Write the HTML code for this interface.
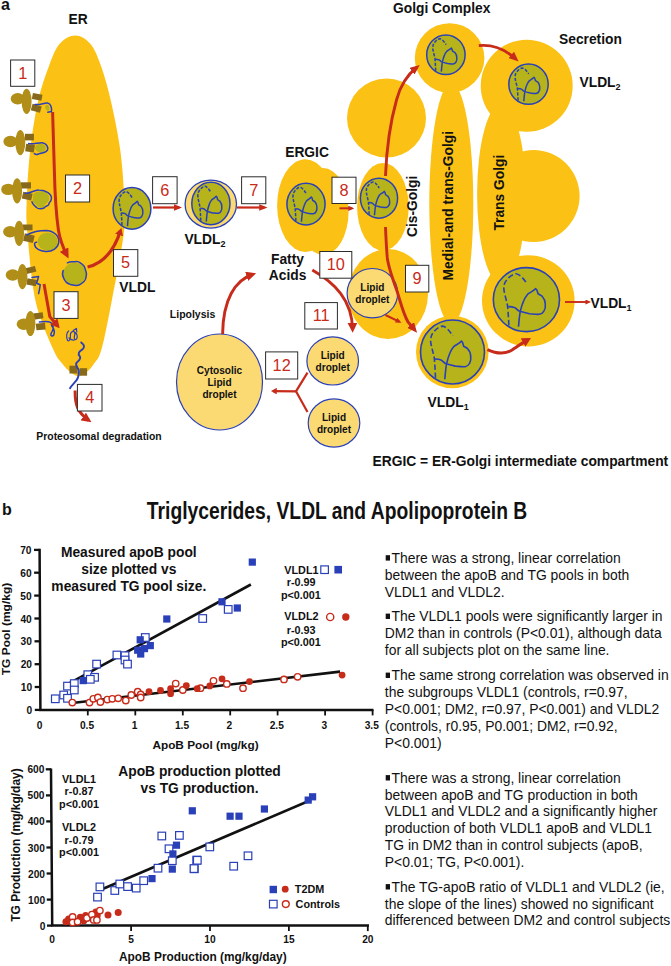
<!DOCTYPE html>
<html><head><meta charset="utf-8"><title>Figure</title>
<style>
html,body{margin:0;padding:0;background:#fff;}
svg{display:block;}
text{font-family:"Liberation Sans",sans-serif;fill:#111;}
.b{font-weight:700;}
.n{fill:#C72B1A;font-size:16.3px;text-anchor:middle;}
</style></head><body>
<svg width="671" height="966" viewBox="0 0 671 966">
<rect width="671" height="966" fill="#fff"/>
<defs>
</defs>
<g fill="#FBC115">
<path d="M75.2,35.5 C80.4,35.5 86.2,38.9 90.5,44.0 C94.8,49.1 97.6,56.4 101.0,66.0 C104.4,75.6 107.8,87.2 111.0,101.5 C114.2,115.8 118.3,135.1 120.5,152.0 C122.7,168.9 123.9,189.2 124.4,203.0 C124.9,216.8 125.7,218.7 123.6,235.0 C121.5,251.3 115.4,281.9 111.7,301.0 C108.0,320.1 104.5,339.0 101.4,349.6 C98.4,360.2 95.9,360.8 93.4,364.5 C90.9,368.2 89.2,370.1 86.6,372.0 C84.0,373.9 80.7,376.2 78.0,376.2 C75.3,376.2 72.9,373.9 70.4,372.0 C67.9,370.1 65.8,368.2 63.0,364.5 C60.1,360.8 57.9,360.2 53.3,349.6 C48.7,339.0 39.8,320.1 35.5,301.0 C31.2,281.9 29.1,251.3 27.6,235.0 C26.1,218.7 26.2,216.8 26.6,203.0 C27.0,189.2 28.1,168.9 30.0,152.0 C31.9,135.1 34.8,115.8 38.0,101.5 C41.2,87.2 45.4,75.6 49.0,66.0 C52.6,56.4 55.1,49.1 59.5,44.0 C63.9,38.9 70.0,35.5 75.2,35.5Z"/>
<ellipse cx="305.4" cy="205.6" rx="28.3" ry="46.4"/>
<ellipse cx="323.1" cy="211.5" rx="25.5" ry="43.4"/>
<circle cx="386.5" cy="118" r="39.5"/>
<ellipse cx="382.9" cy="206.7" rx="25.8" ry="43.8"/>
<ellipse cx="388" cy="294" rx="40" ry="45"/>
<circle cx="449.6" cy="58" r="34.8"/>
<ellipse cx="451.3" cy="203.5" rx="22" ry="120.5"/>
<circle cx="452.3" cy="352" r="36.3"/>
<circle cx="526.7" cy="85.8" r="46"/>
<ellipse cx="501.4" cy="194" rx="24.3" ry="90"/>
<circle cx="533.6" cy="196" r="46"/>
<ellipse cx="528.3" cy="300.8" rx="46.3" ry="45.6"/>
</g>
<ellipse cx="219.5" cy="382" rx="43" ry="48" fill="#FBDA74" stroke="#2A40B8" stroke-width="1.2"/>
<text class="b" x="219.5" y="373.6" font-size="10.1" text-anchor="middle">Cytosolic</text>
<text class="b" x="219.5" y="385.6" font-size="10.1" text-anchor="middle">Lipid</text>
<text class="b" x="219.5" y="397.6" font-size="10.1" text-anchor="middle">droplet</text>
<ellipse cx="372.4" cy="293.2" rx="25.3" ry="24.7" fill="#FBDA74" stroke="#2A40B8" stroke-width="1.2"/>
<text class="b" x="372.4" y="290.8" font-size="10.1" text-anchor="middle">Lipid</text>
<text class="b" x="372.4" y="302.8" font-size="10.1" text-anchor="middle">droplet</text>
<ellipse cx="332.7" cy="360.9" rx="25.8" ry="24.1" fill="#FBDA74" stroke="#2A40B8" stroke-width="1.2"/>
<text class="b" x="332.7" y="358.5" font-size="10.1" text-anchor="middle">Lipid</text>
<text class="b" x="332.7" y="370.5" font-size="10.1" text-anchor="middle">droplet</text>
<ellipse cx="334" cy="423" rx="25.8" ry="24.1" fill="#FBDA74" stroke="#2A40B8" stroke-width="1.2"/>
<text class="b" x="334" y="420.6" font-size="10.1" text-anchor="middle">Lipid</text>
<text class="b" x="334" y="432.6" font-size="10.1" text-anchor="middle">droplet</text>
<ellipse cx="132" cy="208.4" rx="18.9" ry="20.8" fill="#B6B41A" stroke="#2A40B8" stroke-width="1.5"/>
<path d="M122.0,225.2 C121.8,220.9 121.6,216.7 121.2,212.4 C120.7,208.8 119.5,205.3 119.1,202.0 C119.0,199.0 119.5,197.0 120.8,195.5 C122.2,193.4 124.1,192.0 126.1,191.6 C128.2,191.8 130.5,195.1 132.2,197.8" fill="none" stroke="#2A40B8" stroke-width="1.50" stroke-dasharray="3.2 1.5"/>
<path d="M127.5,226.1 C127.8,220.9 128.2,217.8 128.4,216.5 C129.0,213.6 129.7,210.9 130.5,209.0 C131.1,207.4 132.0,205.9 132.8,204.9 C133.9,203.8 135.8,203.0 137.3,201.3 L138.0,202.4 L138.6,204.7 C139.6,205.3 140.3,205.7 140.9,206.1 C142.0,207.6 142.8,209.4 142.8,211.3 C143.0,213.0 142.8,214.6 142.0,215.9 C141.4,217.1 140.5,217.8 139.4,218.0 C137.7,218.2 135.8,217.8 133.7,217.6 C131.6,217.1 129.7,216.5 127.8,215.9 C126.7,215.1 126.0,214.0 125.2,213.6 C124.1,213.0 122.5,213.0 121.6,213.0" fill="none" stroke="#2A40B8" stroke-width="1.50" stroke-linejoin="round"/>
<ellipse cx="210.8" cy="204.1" rx="25.7" ry="24" fill="#FBDA74" stroke="#2A40B8" stroke-width="1.3"/>
<ellipse cx="210.9" cy="203.5" rx="19.1" ry="21.3" fill="#B6B41A" stroke="#2A40B8" stroke-width="1.5"/>
<path d="M200.8,220.8 C200.6,216.3 200.4,212.0 200.0,207.5 C199.4,203.9 198.3,200.3 197.9,196.9 C197.7,193.9 198.3,191.8 199.6,190.3 C201.0,188.2 202.9,186.7 205.0,186.2 C207.1,186.5 209.4,189.9 211.1,192.6" fill="none" stroke="#2A40B8" stroke-width="1.50" stroke-dasharray="3.2 1.5"/>
<path d="M206.3,221.6 C206.7,216.3 207.1,213.1 207.3,211.8 C207.8,208.8 208.6,206.1 209.4,204.1 C209.9,202.4 210.9,200.9 211.7,199.9 C212.8,198.8 214.7,198.0 216.2,196.3 L217.0,197.3 L217.6,199.7 C218.5,200.3 219.3,200.7 219.9,201.2 C221.0,202.6 221.8,204.6 221.8,206.5 C222.0,208.2 221.8,209.9 221.0,211.2 C220.5,212.4 219.5,213.1 218.3,213.3 C216.6,213.5 214.7,213.1 212.6,212.9 C210.5,212.4 208.6,211.8 206.7,211.2 C205.6,210.3 204.8,209.3 204.0,208.8 C202.9,208.2 201.3,208.2 200.4,208.2" fill="none" stroke="#2A40B8" stroke-width="1.50" stroke-linejoin="round"/>
<ellipse cx="306" cy="204.1" rx="19.1" ry="20.8" fill="#B6B41A" stroke="#2A40B8" stroke-width="1.5"/>
<path d="M295.9,220.9 C295.7,216.6 295.5,212.4 295.1,208.1 C294.5,204.5 293.4,201.0 293.0,197.7 C292.8,194.7 293.4,192.7 294.7,191.2 C296.1,189.1 298.0,187.7 300.1,187.3 C302.2,187.5 304.5,190.8 306.2,193.5" fill="none" stroke="#2A40B8" stroke-width="1.50" stroke-dasharray="3.2 1.5"/>
<path d="M301.4,221.8 C301.8,216.6 302.2,213.5 302.4,212.2 C302.9,209.3 303.7,206.6 304.5,204.7 C305.0,203.1 306.0,201.6 306.8,200.6 C307.9,199.5 309.8,198.7 311.3,197.0 L312.1,198.1 L312.7,200.4 C313.6,201.0 314.4,201.4 315.0,201.8 C316.1,203.3 316.9,205.1 316.9,207.0 C317.1,208.7 316.9,210.3 316.1,211.6 C315.6,212.8 314.6,213.5 313.4,213.7 C311.7,213.9 309.8,213.5 307.7,213.3 C305.6,212.8 303.7,212.2 301.8,211.6 C300.7,210.8 299.9,209.7 299.1,209.3 C298.0,208.7 296.4,208.7 295.5,208.7" fill="none" stroke="#2A40B8" stroke-width="1.50" stroke-linejoin="round"/>
<ellipse cx="379" cy="198.2" rx="18.6" ry="20" fill="#B6B41A" stroke="#2A40B8" stroke-width="1.5"/>
<path d="M369.1,214.4 C369.0,210.2 368.8,206.2 368.4,202.0 C367.8,198.6 366.7,195.2 366.4,192.0 C366.2,189.2 366.7,187.2 368.0,185.8 C369.3,183.8 371.2,182.4 373.2,182.0 C375.3,182.2 377.5,185.4 379.2,188.0" fill="none" stroke="#2A40B8" stroke-width="1.50" stroke-dasharray="3.2 1.5"/>
<path d="M374.5,215.2 C374.9,210.2 375.3,207.2 375.5,206.0 C376.0,203.2 376.8,200.6 377.5,198.8 C378.1,197.2 379.0,195.8 379.7,194.8 C380.9,193.8 382.7,193.0 384.2,191.4 L385.0,192.4 L385.5,194.6 C386.4,195.2 387.2,195.6 387.7,196.0 C388.9,197.4 389.6,199.2 389.6,201.0 C389.8,202.6 389.6,204.2 388.9,205.4 C388.3,206.6 387.4,207.2 386.3,207.4 C384.6,207.6 382.7,207.2 380.7,207.0 C378.6,206.6 376.8,206.0 374.9,205.4 C373.8,204.6 373.0,203.6 372.3,203.2 C371.2,202.6 369.7,202.6 368.8,202.6" fill="none" stroke="#2A40B8" stroke-width="1.50" stroke-linejoin="round"/>
<ellipse cx="445.9" cy="54.8" rx="19.2" ry="19.8" fill="#B6B41A" stroke="#2A40B8" stroke-width="1.5"/>
<path d="M435.7,70.8 C435.5,66.7 435.3,62.7 435.0,58.6 C434.4,55.2 433.2,51.8 432.8,48.7 C432.7,45.9 433.2,43.9 434.6,42.5 C435.9,40.5 437.8,39.2 439.9,38.8 C442.1,39.0 444.4,42.1 446.1,44.7" fill="none" stroke="#2A40B8" stroke-width="1.50" stroke-dasharray="3.3 1.5"/>
<path d="M441.3,71.6 C441.7,66.7 442.1,63.7 442.3,62.5 C442.8,59.8 443.6,57.2 444.4,55.4 C444.9,53.8 445.9,52.4 446.7,51.4 C447.8,50.4 449.7,49.7 451.3,48.1 L452.0,49.1 L452.6,51.2 C453.6,51.8 454.3,52.2 454.9,52.6 C456.1,54.0 456.8,55.8 456.8,57.6 C457.0,59.2 456.8,60.7 456.1,61.9 C455.5,63.1 454.5,63.7 453.4,63.9 C451.7,64.1 449.7,63.7 447.6,63.5 C445.5,63.1 443.6,62.5 441.7,61.9 C440.5,61.1 439.8,60.1 439.0,59.8 C437.8,59.2 436.3,59.2 435.3,59.2" fill="none" stroke="#2A40B8" stroke-width="1.50" stroke-linejoin="round"/>
<ellipse cx="528.5" cy="84.2" rx="19.7" ry="20.1" fill="#B6B41A" stroke="#2A40B8" stroke-width="1.5"/>
<path d="M518.1,100.5 C517.9,96.3 517.7,92.2 517.3,88.0 C516.7,84.6 515.5,81.2 515.1,78.0 C514.9,75.2 515.5,73.1 516.9,71.7 C518.3,69.7 520.2,68.3 522.4,67.9 C524.6,68.1 526.9,71.3 528.7,73.9" fill="none" stroke="#2A40B8" stroke-width="1.50" stroke-dasharray="3.3 1.6"/>
<path d="M523.8,101.3 C524.2,96.3 524.6,93.2 524.8,92.0 C525.3,89.2 526.1,86.6 526.9,84.8 C527.5,83.2 528.5,81.8 529.3,80.8 C530.5,79.8 532.4,79.0 534.0,77.4 L534.8,78.4 L535.4,80.6 C536.4,81.2 537.2,81.6 537.8,82.0 C538.9,83.4 539.7,85.2 539.7,87.0 C539.9,88.6 539.7,90.2 538.9,91.4 C538.4,92.6 537.4,93.2 536.2,93.4 C534.4,93.6 532.4,93.2 530.3,93.0 C528.1,92.6 526.1,92.0 524.2,91.4 C523.0,90.6 522.2,89.6 521.4,89.2 C520.2,88.6 518.6,88.6 517.7,88.6" fill="none" stroke="#2A40B8" stroke-width="1.50" stroke-linejoin="round"/>
<ellipse cx="452.5" cy="352" rx="32" ry="32" fill="#B6B41A" stroke="#2A40B8" stroke-width="1.6"/>
<path d="M435.5,377.9 C435.2,371.2 434.9,364.8 434.3,358.1 C433.3,352.6 431.4,347.2 430.7,342.1 C430.4,337.6 431.4,334.4 433.6,332.2 C435.9,329.0 439.1,326.7 442.6,326.1 C446.1,326.4 449.9,331.5 452.8,335.7" fill="none" stroke="#2A40B8" stroke-width="1.60" stroke-dasharray="5.4 2.6"/>
<path d="M444.8,379.2 C445.5,371.2 446.1,366.4 446.4,364.5 C447.4,360.0 448.7,355.8 449.9,353.0 C450.9,350.4 452.5,348.2 453.8,346.6 C455.7,345.0 458.9,343.7 461.5,341.1 L462.7,342.7 L463.7,346.2 C465.3,347.2 466.6,347.8 467.5,348.5 C469.5,350.7 470.7,353.6 470.7,356.5 C471.1,359.0 470.7,361.6 469.5,363.5 C468.5,365.4 466.9,366.4 465.0,366.7 C462.1,367.0 458.9,366.4 455.4,366.1 C451.9,365.4 448.7,364.5 445.5,363.5 C443.5,362.2 442.3,360.6 441.0,360.0 C439.1,359.0 436.5,359.0 434.9,359.0" fill="none" stroke="#2A40B8" stroke-width="1.60" stroke-linejoin="round"/>
<ellipse cx="526.4" cy="299.6" rx="33.1" ry="32" fill="#B6B41A" stroke="#2A40B8" stroke-width="1.6"/>
<path d="M508.9,325.5 C508.5,318.8 508.2,312.4 507.5,305.7 C506.5,300.2 504.6,294.8 503.9,289.7 C503.6,285.2 504.6,282.0 506.9,279.8 C509.2,276.6 512.5,274.3 516.1,273.7 C519.8,274.0 523.8,279.1 526.7,283.3" fill="none" stroke="#2A40B8" stroke-width="1.60" stroke-dasharray="5.6 2.6"/>
<path d="M518.5,326.8 C519.1,318.8 519.8,314.0 520.1,312.1 C521.1,307.6 522.4,303.4 523.8,300.6 C524.7,298.0 526.4,295.8 527.7,294.2 C529.7,292.6 533.0,291.3 535.7,288.7 L537.0,290.3 L538.0,293.8 C539.6,294.8 541.0,295.4 542.0,296.1 C543.9,298.3 545.3,301.2 545.3,304.1 C545.6,306.6 545.3,309.2 543.9,311.1 C542.9,313.0 541.3,314.0 539.3,314.3 C536.3,314.6 533.0,314.0 529.4,313.7 C525.7,313.0 522.4,312.1 519.1,311.1 C517.1,309.8 515.8,308.2 514.5,307.6 C512.5,306.6 509.8,306.6 508.2,306.6" fill="none" stroke="#2A40B8" stroke-width="1.60" stroke-linejoin="round"/>
<rect x="32.3" y="93.8" width="9.7" height="6.2" fill="#86691A" transform="rotate(10 37.1 96.9)"/>
<rect x="31.5" y="105.0" width="9.5" height="6.6" fill="#86691A" transform="rotate(16 36.2 108.3)"/>
<ellipse cx="17.7" cy="98.8" rx="7" ry="5.7" fill="#B08E18"/>
<ellipse cx="26.6" cy="101.4" rx="5" ry="12.6" fill="#B08E18"/>
<rect x="25.0" y="133.8" width="8.9" height="6.6" fill="#86691A" transform="rotate(0 29.4 137.1)"/>
<rect x="25.6" y="144.4" width="8.8" height="7.4" fill="#86691A" transform="rotate(8 30.0 148.1)"/>
<ellipse cx="10.4" cy="141.5" rx="7" ry="5.7" fill="#B08E18"/>
<ellipse cx="20.3" cy="142.6" rx="5" ry="12.6" fill="#B08E18"/>
<rect x="20.9" y="182.3" width="10.1" height="6.2" fill="#86691A" transform="rotate(0 25.9 185.4)"/>
<rect x="22.4" y="192.6" width="9.6" height="7.0" fill="#86691A" transform="rotate(12 27.2 196.1)"/>
<ellipse cx="8.2" cy="189.4" rx="7" ry="5.7" fill="#B08E18"/>
<ellipse cx="17.1" cy="190.9" rx="5" ry="12.6" fill="#B08E18"/>
<rect x="22.4" y="224.5" width="10.1" height="5.8" fill="#86691A" transform="rotate(0 27.4 227.4)"/>
<rect x="23.8" y="234.4" width="10.2" height="7.6" fill="#86691A" transform="rotate(14 28.9 238.2)"/>
<ellipse cx="10.1" cy="231.8" rx="7" ry="5.7" fill="#B08E18"/>
<ellipse cx="19.1" cy="233.3" rx="5" ry="12.6" fill="#B08E18"/>
<rect x="26.0" y="267.0" width="9.8" height="5.8" fill="#86691A" transform="rotate(-14 30.9 269.9)"/>
<rect x="26.8" y="279.0" width="9.7" height="6.4" fill="#86691A" transform="rotate(10 31.6 282.2)"/>
<ellipse cx="12.7" cy="275.0" rx="7" ry="5.7" fill="#B08E18"/>
<ellipse cx="22.4" cy="276.6" rx="5" ry="12.6" fill="#B08E18"/>
<rect x="33.4" y="312.8" width="9.7" height="6.2" fill="#86691A" transform="rotate(-8 38.2 315.9)"/>
<rect x="36.1" y="323.3" width="9.2" height="6.6" fill="#86691A" transform="rotate(-6 40.7 326.6)"/>
<ellipse cx="23.7" cy="324.3" rx="7" ry="5.7" fill="#B08E18"/>
<ellipse cx="30.4" cy="323.5" rx="5" ry="12.6" fill="#B08E18"/>
<rect x="69.5" y="365.7" width="7.9" height="7.8" fill="#86691A"/>
<rect x="79.6" y="368.2" width="7.5" height="7.5" fill="#86691A"/>
<ellipse cx="47.4" cy="107.8" rx="2.0" ry="3.0" fill="#B6B41A" transform="rotate(-20 47.4 107.8)"/>
<path d="M35,104.4 C40,105.5 44,102.6 47.5,103 C51,103.6 52,108 51.4,111.6 L47.8,112.2" fill="none" stroke="#2A40B8" stroke-width="1.5" stroke-linecap="round" stroke-linejoin="round"/>
<ellipse cx="40.4" cy="148" rx="5.4" ry="4.2" fill="#B6B41A"/>
<path d="M28.7,143.6 C33,144.6 38,142.6 42,142.8 C46.5,143.4 48.6,147 47.4,150.2 C45.6,153.6 41,152.4 38.6,154 C36.5,155 35.3,154.4 34.4,153.6" fill="none" stroke="#2A40B8" stroke-width="1.5" stroke-linecap="round" stroke-linejoin="round"/>
<path d="M33,196 C34,191.5 40,190.5 44.5,192 C49.5,193.8 50.5,199 47.5,202.5 C46.2,204 44.8,203.6 44.4,206 C43.8,208.2 38.8,208.4 37.6,206.4 C36.6,204.2 33.6,203.6 32.6,201 Z" fill="#B6B41A"/>
<path d="M25.3,193.2 C30,194.2 33.5,189.8 39,190 C46,190 51.8,194.4 51.4,198.6 C51.2,202.2 48.4,202.4 48.8,204.6 C47.4,206.4 45.2,205.6 44.6,207.6 C42.4,209.2 38,209.4 36.4,207.4 C34.4,205.6 32.4,203.6 32,201.8" fill="none" stroke="#2A40B8" stroke-width="1.5" stroke-linecap="round" stroke-linejoin="round"/>
<ellipse cx="47.6" cy="241.6" rx="10" ry="9.2" fill="#B6B41A"/>
<path d="M26.8,234.8 C33,231.6 40,230.4 46,230.4 C54,230.6 59,236 58.8,241.4 C58.6,248 52,251.8 45.5,251.4 C40,251 35,248.4 34.6,244.6 C34.4,242.8 35.4,242 36.6,242.2" fill="none" stroke="#2A40B8" stroke-width="1.5" stroke-linecap="round" stroke-linejoin="round"/>
<ellipse cx="74.5" cy="273.8" rx="11.4" ry="11" fill="#B6B41A"/>
<path d="M67.4,262.8 C71,260.6 74,262.2 76.4,261.6 C79.6,261.4 80.4,263.6 82.4,264.4 C85.4,266.4 85,269.4 86,271.4 C87.4,274.6 86,277 85.4,279.4 C84.4,282.6 81.4,283.4 79.4,284.8 C76,286.4 73,285 70.4,284.4 C66.4,283.2 64.4,280.4 63.4,277.4 C61.8,274.6 62.6,272 63.2,270.4" fill="none" stroke="#2A40B8" stroke-width="1.5" stroke-linecap="round" stroke-linejoin="round"/>
<path d="M32,277.4 L38.6,276.6 L36.6,283.2 L40.2,284.8 L39.6,289 L38.6,293.6" fill="none" stroke="#2A40B8" stroke-width="1.5" stroke-linecap="round" stroke-linejoin="round"/>
<path d="M39.4,322 C44,321.4 48,321.2 50.6,322.4 C53.6,324.6 53.8,329 52.2,331.4 C50.4,333.8 50.4,336.4 52.4,336 C54.6,335.4 54.8,331.4 53.4,328.4 C52.8,326.8 52,326 51.6,325.6" fill="none" stroke="#2A40B8" stroke-width="1.5" stroke-linecap="round" stroke-linejoin="round"/>
<path d="M68.6,331 C66.4,332.6 66,337 67.6,340.6 C69.4,341.6 70.6,339 70.4,336 C70.2,333.4 71.4,331.8 73,331.4 C75,331.2 75.2,334 74.4,336.4 C73.6,339.4 75.4,340.6 76.8,338.6 C77.8,336.4 77,333.4 75,332.4 M73.2,330.6 L76.4,328.4 L76.8,332 M69,338 C71.4,340.4 74.4,340.8 76.8,338.6" fill="none" stroke="#2A40B8" stroke-width="1.2" stroke-linecap="round" stroke-linejoin="round"/>
<path d="M81.2,342.4 C84.4,344.8 85,347.4 82.4,349.4 C79,351.6 77.4,353.4 79.8,356.4 C81.6,358.8 78.4,360.8 76.4,363 C74.8,365.4 78.6,368 78.8,371 C79,374.6 78.4,377.6 76.6,380.2 C74.6,382.8 71.6,385.6 70,388.2" fill="none" stroke="#2A40B8" stroke-width="1.9" stroke-linecap="round" stroke-linejoin="round"/>
<defs><marker id="m0" viewBox="0 0 10 10" preserveAspectRatio="none" refX="6.5" refY="5" markerWidth="10" markerHeight="9.7" orient="auto" markerUnits="userSpaceOnUse"><path d="M0,0 L10,5 L0,10 Z" fill="#C72B1A"/></marker></defs>
<path d="M52.6,112 L54.4,172 C55,198 56.4,216 58.4,230 C60,240 63.4,248.4 67,255.4" fill="none" stroke="#C72B1A" stroke-width="3.0" marker-end="url(#m0)"/>
<defs><marker id="m1" viewBox="0 0 10 10" preserveAspectRatio="none" refX="6.5" refY="5" markerWidth="9" markerHeight="9.5" orient="auto" markerUnits="userSpaceOnUse"><path d="M0,0 L10,5 L0,10 Z" fill="#C72B1A"/></marker></defs>
<path d="M44,284 L49.8,316.6 L57.6,325.8" fill="none" stroke="#C72B1A" stroke-width="3.0" marker-end="url(#m1)"/>
<defs><marker id="m2" viewBox="0 0 10 10" preserveAspectRatio="none" refX="6.5" refY="5" markerWidth="10" markerHeight="9.5" orient="auto" markerUnits="userSpaceOnUse"><path d="M0,0 L10,5 L0,10 Z" fill="#C72B1A"/></marker></defs>
<path d="M75.1,390.6 C75,405 77.6,412.6 88.6,420.2" fill="none" stroke="#C72B1A" stroke-width="3.0" marker-end="url(#m2)"/>
<defs><marker id="m3" viewBox="0 0 10 10" preserveAspectRatio="none" refX="6.5" refY="5" markerWidth="7.5" markerHeight="8.2" orient="auto" markerUnits="userSpaceOnUse"><path d="M0,0 L10,5 L0,10 Z" fill="#C72B1A"/></marker></defs>
<path d="M87.6,267 C101,264 113,254 120.6,230.4" fill="none" stroke="#C72B1A" stroke-width="3.2" marker-end="url(#m3)"/>
<defs><marker id="m4" viewBox="0 0 10 10" preserveAspectRatio="none" refX="6.5" refY="5" markerWidth="8.3" markerHeight="6.7" orient="auto" markerUnits="userSpaceOnUse"><path d="M0,0 L10,5 L0,10 Z" fill="#C72B1A"/></marker></defs>
<path d="M153,207.5 L179.4,207.5" fill="none" stroke="#C72B1A" stroke-width="2.2" marker-end="url(#m4)"/>
<path d="M237,207.5 L264.6,207.5" fill="none" stroke="#C72B1A" stroke-width="2.2" marker-end="url(#m4)"/>
<defs><marker id="m5" viewBox="0 0 10 10" preserveAspectRatio="none" refX="6.5" refY="5" markerWidth="6" markerHeight="5.2" orient="auto" markerUnits="userSpaceOnUse"><path d="M0,0 L10,5 L0,10 Z" fill="#C72B1A"/></marker></defs>
<path d="M339.5,208.3 L352.2,208.3" fill="none" stroke="#C72B1A" stroke-width="2.0" marker-end="url(#m5)"/>
<defs><marker id="m6" viewBox="0 0 10 10" preserveAspectRatio="none" refX="6.5" refY="5" markerWidth="10" markerHeight="8.4" orient="auto" markerUnits="userSpaceOnUse"><path d="M0,0 L10,5 L0,10 Z" fill="#C72B1A"/></marker></defs>
<path d="M385.5,176 C386.5,150 389.5,125 396.5,100 C400.5,85 407,75 417,67.2" fill="none" stroke="#C72B1A" stroke-width="2.9" marker-end="url(#m6)"/>
<path d="M478.8,45.7 C495,44 507,51 516,59.2" fill="none" stroke="#C72B1A" stroke-width="2.8" marker-end="url(#m6)"/>
<defs><marker id="m7" viewBox="0 0 10 10" preserveAspectRatio="none" refX="6.5" refY="5" markerWidth="10" markerHeight="9" orient="auto" markerUnits="userSpaceOnUse"><path d="M0,0 L10,5 L0,10 Z" fill="#C72B1A"/></marker></defs>
<path d="M385.5,227 C386,240 386.6,250 387.3,258 C388.5,267 393,280 396.9,290.7 C400,300 402.5,312 408,322 L414.8,330" fill="none" stroke="#C72B1A" stroke-width="2.9" marker-end="url(#m7)"/>
<defs><marker id="m8" viewBox="0 0 10 10" preserveAspectRatio="none" refX="6.5" refY="5" markerWidth="10" markerHeight="10" orient="auto" markerUnits="userSpaceOnUse"><path d="M0,0 L10,5 L0,10 Z" fill="#C72B1A"/></marker></defs>
<path d="M312.3,270 C335,283 352,300 352.6,329.2" fill="none" stroke="#C72B1A" stroke-width="2.9" marker-end="url(#m8)"/>
<path d="M385.4,315 L399.6,321.8" fill="none" stroke="#C72B1A" stroke-width="2.0" marker-end="url(#m5)"/>
<defs><marker id="m9" viewBox="0 0 10 10" preserveAspectRatio="none" refX="6.5" refY="5" markerWidth="9" markerHeight="9.7" orient="auto" markerUnits="userSpaceOnUse"><path d="M0,0 L10,5 L0,10 Z" fill="#C72B1A"/></marker></defs>
<path d="M487.4,349.6 C496,353.6 505,354.4 512,350 C518,346 522,343 528.2,339.6" fill="none" stroke="#C72B1A" stroke-width="3.0" marker-end="url(#m9)"/>
<defs><marker id="m10" viewBox="0 0 10 10" preserveAspectRatio="none" refX="6.5" refY="5" markerWidth="5.8" markerHeight="5" orient="auto" markerUnits="userSpaceOnUse"><path d="M0,0 L10,5 L0,10 Z" fill="#C72B1A"/></marker></defs>
<path d="M565,302 L589.2,302" fill="none" stroke="#C72B1A" stroke-width="1.9" marker-end="url(#m10)"/>
<path d="M222.6,334 C223,300 235,280 252.8,274.4" fill="none" stroke="#C72B1A" stroke-width="2.9" marker-end="url(#m2)"/>
<path d="M307.5,372.6 L296,391.4 L307.5,412" fill="none" stroke="#C72B1A" stroke-width="2.2"/>
<defs><marker id="m11" viewBox="0 0 10 10" preserveAspectRatio="none" refX="6.5" refY="5" markerWidth="5.8" markerHeight="6.6" orient="auto" markerUnits="userSpaceOnUse"><path d="M0,0 L10,5 L0,10 Z" fill="#C72B1A"/></marker></defs>
<path d="M296.5,391.3 L273,391.1" fill="none" stroke="#C72B1A" stroke-width="2.2" marker-end="url(#m11)"/>
<rect x="10.6" y="60" width="24.2" height="26.3" fill="#fff" stroke="#2b2b2b" stroke-width="1"/>
<text class="n" x="22.7" y="78.65">1</text>
<rect x="65.5" y="175" width="24.1" height="27" fill="#fff" stroke="#2b2b2b" stroke-width="1"/>
<text class="n" x="77.55" y="194.0">2</text>
<rect x="54" y="291.7" width="24" height="26.7" fill="#fff" stroke="#2b2b2b" stroke-width="1"/>
<text class="n" x="66.0" y="310.55">3</text>
<rect x="77.4" y="384.4" width="24.6" height="26.6" fill="#fff" stroke="#2b2b2b" stroke-width="1"/>
<text class="n" x="89.7" y="403.2">4</text>
<rect x="113.5" y="249.6" width="24.3" height="26.7" fill="#fff" stroke="#2b2b2b" stroke-width="1"/>
<text class="n" x="125.65" y="268.45">5</text>
<rect x="152.6" y="176.7" width="24.5" height="27" fill="#fff" stroke="#2b2b2b" stroke-width="1"/>
<text class="n" x="164.85" y="195.7">6</text>
<rect x="241.6" y="176.8" width="24.2" height="26.9" fill="#fff" stroke="#2b2b2b" stroke-width="1"/>
<text class="n" x="253.7" y="195.75">7</text>
<rect x="332" y="177.2" width="24" height="26.3" fill="#fff" stroke="#2b2b2b" stroke-width="1"/>
<text class="n" x="344.0" y="195.85">8</text>
<rect x="405.5" y="265.3" width="23.3" height="26.7" fill="#fff" stroke="#2b2b2b" stroke-width="1"/>
<text class="n" x="417.15" y="284.15000000000003">9</text>
<rect x="319.8" y="251.5" width="32" height="26.7" fill="#fff" stroke="#2b2b2b" stroke-width="1"/>
<text class="n" x="335.8" y="270.35">10</text>
<rect x="304.8" y="302.6" width="32.6" height="26.4" fill="#fff" stroke="#2b2b2b" stroke-width="1"/>
<text class="n" x="321.1" y="321.3">11</text>
<rect x="265.6" y="351.9" width="32.1" height="27.1" fill="#fff" stroke="#2b2b2b" stroke-width="1"/>
<text class="n" x="281.65000000000003" y="370.95">12</text>
<text class="b" x="1" y="10.4" font-size="16" text-anchor="start">a</text>
<text class="b" x="68.5" y="24.3" font-size="13.8" text-anchor="start">ER</text>
<text class="b" x="119.3" y="292" font-size="13.8" text-anchor="start">VLDL</text>
<text class="b" x="184.4" y="244.3" font-size="13.8" text-anchor="start">VLDL<tspan font-size="9" dy="3">2</tspan></text>
<text class="b" x="285.2" y="156.6" font-size="13.8" text-anchor="start">ERGIC</text>
<text class="b" x="271" y="263.8" font-size="13.8" text-anchor="start">Fatty</text>
<text class="b" x="268.8" y="279.8" font-size="13.8" text-anchor="start">Acids</text>
<text class="b" x="169.8" y="317.6" font-size="10.5" text-anchor="start">Lipolysis</text>
<text class="b" x="36.3" y="440.3" font-size="10.5" text-anchor="start" textLength="125.4" lengthAdjust="spacingAndGlyphs">Proteosomal degradation</text>
<text class="b" x="393" y="13.2" font-size="13.8" text-anchor="start">Golgi Complex</text>
<text class="b" x="559" y="43.6" font-size="13.8" text-anchor="start">Secretion</text>
<text class="b" x="579.5" y="87.2" font-size="13.8" text-anchor="start">VLDL<tspan font-size="9" dy="3">2</tspan></text>
<text class="b" x="590.5" y="307.5" font-size="13.8" text-anchor="start">VLDL<tspan font-size="9" dy="3">1</tspan></text>
<text class="b" x="427.6" y="406.5" font-size="13.8" text-anchor="start">VLDL<tspan font-size="9" dy="3">1</tspan></text>
<text class="b" x="372.5" y="466" font-size="13.8" text-anchor="start" textLength="295.7" lengthAdjust="spacingAndGlyphs">ERGIC = ER-Golgi intermediate compartment</text>
<text class="b" font-size="13.8" transform="translate(417,237) rotate(-90)">Cis-Golgi</text>
<text class="b" font-size="13.8" transform="translate(453.4,280.4) rotate(-90)">Medial-and trans-Golgi</text>
<text class="b" font-size="13.8" transform="translate(504.2,230.6) rotate(-90)">Trans Golgi</text>
<text class="b" x="2" y="515.2" font-size="16" text-anchor="start">b</text>
<text class="b" x="146.8" y="518.9" font-size="24.8" textLength="380.4" lengthAdjust="spacingAndGlyphs">Triglycerides, VLDL and Apolipoprotein B</text>
<path d="M39.6,548.7 L40.4,709.9 H373.5" fill="none" stroke="#111" stroke-width="2.5"/>
<path d="M34.8,709.9 H40.4" stroke="#111" stroke-width="2.3"/>
<text class="b" x="32.2" y="713.9" font-size="10.2" text-anchor="end">0</text>
<path d="M34.7,687.0 H40.3" stroke="#111" stroke-width="2.3"/>
<text class="b" x="32.1" y="691.0" font-size="10.2" text-anchor="end">10</text>
<path d="M34.6,664.2 H40.2" stroke="#111" stroke-width="2.3"/>
<text class="b" x="32.0" y="668.2" font-size="10.2" text-anchor="end">20</text>
<path d="M34.5,641.3 H40.1" stroke="#111" stroke-width="2.3"/>
<text class="b" x="31.9" y="645.3" font-size="10.2" text-anchor="end">30</text>
<path d="M34.4,618.5 H40.0" stroke="#111" stroke-width="2.3"/>
<text class="b" x="31.8" y="622.5" font-size="10.2" text-anchor="end">40</text>
<path d="M34.2,595.6 H39.9" stroke="#111" stroke-width="2.3"/>
<text class="b" x="31.7" y="599.6" font-size="10.2" text-anchor="end">50</text>
<path d="M34.1,572.7 H39.7" stroke="#111" stroke-width="2.3"/>
<text class="b" x="31.6" y="576.7" font-size="10.2" text-anchor="end">60</text>
<path d="M34.0,549.9 H39.6" stroke="#111" stroke-width="2.3"/>
<text class="b" x="31.5" y="553.9" font-size="10.2" text-anchor="end">70</text>
<text class="b" x="39.6" y="728.8" font-size="10.2" text-anchor="middle">0</text>
<path d="M87.8,709.9 V715.4" stroke="#111" stroke-width="1.8"/>
<text class="b" x="87.0" y="728.8" font-size="10.2" text-anchor="middle">0.5</text>
<path d="M135.3,709.9 V715.4" stroke="#111" stroke-width="1.8"/>
<text class="b" x="134.5" y="728.8" font-size="10.2" text-anchor="middle">1</text>
<path d="M182.8,709.9 V715.4" stroke="#111" stroke-width="1.8"/>
<text class="b" x="182.0" y="728.8" font-size="10.2" text-anchor="middle">1.5</text>
<path d="M230.2,709.9 V715.4" stroke="#111" stroke-width="1.8"/>
<text class="b" x="229.4" y="728.8" font-size="10.2" text-anchor="middle">2</text>
<path d="M277.6,709.9 V715.4" stroke="#111" stroke-width="1.8"/>
<text class="b" x="276.8" y="728.8" font-size="10.2" text-anchor="middle">2.5</text>
<path d="M325.1,709.9 V715.4" stroke="#111" stroke-width="1.8"/>
<text class="b" x="324.3" y="728.8" font-size="10.2" text-anchor="middle">3</text>
<path d="M372.6,709.9 V715.4" stroke="#111" stroke-width="1.8"/>
<text class="b" x="371.8" y="728.8" font-size="10.2" text-anchor="middle">3.5</text>
<text class="b" font-size="11.8" transform="translate(9.9,675.2) rotate(-90)" textLength="92.4" lengthAdjust="spacingAndGlyphs">TG Pool (mg/kg)</text>
<text class="b" x="205.5" y="749" font-size="11.8" text-anchor="middle">ApoB Pool (mg/kg)</text>
<text class="b" x="128.8" y="557.2" font-size="13.8" text-anchor="middle">Measured apoB pool</text>
<text class="b" x="128.8" y="573.9000000000001" font-size="13.8" text-anchor="middle">size plotted vs</text>
<text class="b" x="128.8" y="590.6" font-size="13.8" text-anchor="middle">measured TG pool size.</text>
<path d="M65,685.6 L250.9,584.5" stroke="#111" stroke-width="2.6"/>
<path d="M72.3,703 L340.1,671.6" stroke="#111" stroke-width="2.6"/>
<text class="b" x="284.3" y="573.6" font-size="10.8" text-anchor="start">VLDL1</text>
<rect x="320.8" y="565.9" width="7.6" height="7.6" fill="#fff" stroke="#2A40B8" stroke-width="1.2"/>
<rect x="334.4" y="565.9" width="7.6" height="7.6" fill="#2A40B8"/>
<text class="b" x="301.2" y="586.4" font-size="10.8" text-anchor="middle">r-0.99</text>
<text class="b" x="300.9" y="599.1" font-size="10.8" text-anchor="middle">p&lt;0.001</text>
<text class="b" x="284.3" y="620.4" font-size="10.8" text-anchor="start">VLDL2</text>
<circle cx="330.2" cy="617" r="3.6" fill="#fff" stroke="#C72B1A" stroke-width="1.4"/>
<circle cx="345.8" cy="617" r="3.7" fill="#C72B1A"/>
<text class="b" x="301.2" y="633.7" font-size="10.8" text-anchor="middle">r-0.93</text>
<text class="b" x="300.9" y="646" font-size="10.8" text-anchor="middle">p&lt;0.001</text>
<rect x="51.5" y="695.0" width="7.6" height="7.6" fill="#fff" stroke="#2A40B8" stroke-width="1.2"/>
<rect x="59.9" y="691.2" width="7.6" height="7.6" fill="#fff" stroke="#2A40B8" stroke-width="1.2"/>
<rect x="63.7" y="694.5" width="7.6" height="7.6" fill="#fff" stroke="#2A40B8" stroke-width="1.2"/>
<rect x="63.7" y="682.3" width="7.6" height="7.6" fill="#fff" stroke="#2A40B8" stroke-width="1.2"/>
<rect x="70.5" y="679.8" width="7.6" height="7.6" fill="#fff" stroke="#2A40B8" stroke-width="1.2"/>
<rect x="70.5" y="686.2" width="7.6" height="7.6" fill="#fff" stroke="#2A40B8" stroke-width="1.2"/>
<rect x="84.0" y="670.9" width="7.6" height="7.6" fill="#fff" stroke="#2A40B8" stroke-width="1.2"/>
<rect x="90.8" y="673.5" width="7.6" height="7.6" fill="#fff" stroke="#2A40B8" stroke-width="1.2"/>
<rect x="86.5" y="675.5" width="7.6" height="7.6" fill="#fff" stroke="#2A40B8" stroke-width="1.2"/>
<rect x="92.8" y="660.3" width="7.6" height="7.6" fill="#fff" stroke="#2A40B8" stroke-width="1.2"/>
<rect x="113.1" y="651.2" width="7.6" height="7.6" fill="#fff" stroke="#2A40B8" stroke-width="1.2"/>
<rect x="121.2" y="651.9" width="7.6" height="7.6" fill="#fff" stroke="#2A40B8" stroke-width="1.2"/>
<rect x="121.2" y="656.2" width="7.6" height="7.6" fill="#fff" stroke="#2A40B8" stroke-width="1.2"/>
<rect x="123.7" y="660.3" width="7.6" height="7.6" fill="#fff" stroke="#2A40B8" stroke-width="1.2"/>
<rect x="141.5" y="633.7" width="7.6" height="7.6" fill="#fff" stroke="#2A40B8" stroke-width="1.2"/>
<rect x="198.9" y="614.7" width="7.6" height="7.6" fill="#fff" stroke="#2A40B8" stroke-width="1.2"/>
<rect x="224.4" y="605.6" width="7.6" height="7.6" fill="#fff" stroke="#2A40B8" stroke-width="1.2"/>
<rect x="79.6" y="677.0" width="7.2" height="7.2" fill="#2A40B8"/>
<rect x="163.2" y="615.4" width="7.2" height="7.2" fill="#2A40B8"/>
<rect x="136.6" y="636.2" width="7.2" height="7.2" fill="#2A40B8"/>
<rect x="134.1" y="646.6" width="7.2" height="7.2" fill="#2A40B8"/>
<rect x="137.1" y="650.4" width="7.2" height="7.2" fill="#2A40B8"/>
<rect x="140.9" y="645.0" width="7.2" height="7.2" fill="#2A40B8"/>
<rect x="146.7" y="642.0" width="7.2" height="7.2" fill="#2A40B8"/>
<rect x="248.7" y="558.5" width="7.2" height="7.2" fill="#2A40B8"/>
<rect x="218.4" y="598.2" width="7.2" height="7.2" fill="#2A40B8"/>
<rect x="233.7" y="604.4" width="7.2" height="7.2" fill="#2A40B8"/>
<circle cx="72.3" cy="702.6" r="3.2" fill="#fff" stroke="#C72B1A" stroke-width="1.4"/>
<circle cx="89.5" cy="702.6" r="3.2" fill="#fff" stroke="#C72B1A" stroke-width="1.4"/>
<circle cx="93.3" cy="698.8" r="3.2" fill="#fff" stroke="#C72B1A" stroke-width="1.4"/>
<circle cx="97.9" cy="697.5" r="3.2" fill="#fff" stroke="#C72B1A" stroke-width="1.4"/>
<circle cx="100.4" cy="702.1" r="3.2" fill="#fff" stroke="#C72B1A" stroke-width="1.4"/>
<circle cx="107.3" cy="699.6" r="3.2" fill="#fff" stroke="#C72B1A" stroke-width="1.4"/>
<circle cx="112.3" cy="698.8" r="3.2" fill="#fff" stroke="#C72B1A" stroke-width="1.4"/>
<circle cx="118.2" cy="698.3" r="3.2" fill="#fff" stroke="#C72B1A" stroke-width="1.4"/>
<circle cx="125.8" cy="700.6" r="3.2" fill="#fff" stroke="#C72B1A" stroke-width="1.4"/>
<circle cx="131.3" cy="695" r="3.2" fill="#fff" stroke="#C72B1A" stroke-width="1.4"/>
<circle cx="137.7" cy="691.7" r="3.2" fill="#fff" stroke="#C72B1A" stroke-width="1.4"/>
<circle cx="140.7" cy="694.5" r="3.2" fill="#fff" stroke="#C72B1A" stroke-width="1.4"/>
<circle cx="140.7" cy="697.5" r="3.2" fill="#fff" stroke="#C72B1A" stroke-width="1.4"/>
<circle cx="175.7" cy="683.6" r="3.2" fill="#fff" stroke="#C72B1A" stroke-width="1.4"/>
<circle cx="182.8" cy="690" r="3.2" fill="#fff" stroke="#C72B1A" stroke-width="1.4"/>
<circle cx="200.5" cy="688.2" r="3.2" fill="#fff" stroke="#C72B1A" stroke-width="1.4"/>
<circle cx="213.5" cy="680.8" r="3.2" fill="#fff" stroke="#C72B1A" stroke-width="1.4"/>
<circle cx="226.8" cy="683.9" r="3.2" fill="#fff" stroke="#C72B1A" stroke-width="1.4"/>
<circle cx="243" cy="688.2" r="3.2" fill="#fff" stroke="#C72B1A" stroke-width="1.4"/>
<circle cx="284" cy="679.4" r="3.2" fill="#fff" stroke="#C72B1A" stroke-width="1.4"/>
<circle cx="297.6" cy="676.8" r="3.2" fill="#fff" stroke="#C72B1A" stroke-width="1.4"/>
<circle cx="149" cy="691.7" r="3.4" fill="#C72B1A"/>
<circle cx="160.5" cy="690.5" r="3.4" fill="#C72B1A"/>
<circle cx="170.6" cy="688.7" r="3.4" fill="#C72B1A"/>
<circle cx="170.6" cy="693.7" r="3.4" fill="#C72B1A"/>
<circle cx="186.3" cy="685.6" r="3.4" fill="#C72B1A"/>
<circle cx="197.2" cy="688.7" r="3.4" fill="#C72B1A"/>
<circle cx="209.8" cy="685.9" r="3.4" fill="#C72B1A"/>
<circle cx="222" cy="678.8" r="3.4" fill="#C72B1A"/>
<circle cx="249.5" cy="681.6" r="3.4" fill="#C72B1A"/>
<circle cx="342.1" cy="675.1" r="3.4" fill="#C72B1A"/>
<path d="M51.0,768.5 L52.2,925.6 H369" fill="none" stroke="#111" stroke-width="2.5"/>
<path d="M47.0,925.6 H52.2" stroke="#111" stroke-width="2.3"/>
<text class="b" x="45.3" y="929.6" font-size="10.2" text-anchor="end">0</text>
<path d="M46.8,899.6 H52.0" stroke="#111" stroke-width="2.3"/>
<text class="b" x="45.1" y="903.6" font-size="10.2" text-anchor="end">100</text>
<path d="M46.6,873.5 H51.8" stroke="#111" stroke-width="2.3"/>
<text class="b" x="45.0" y="877.5" font-size="10.2" text-anchor="end">200</text>
<path d="M46.4,847.5 H51.6" stroke="#111" stroke-width="2.3"/>
<text class="b" x="44.8" y="851.5" font-size="10.2" text-anchor="end">300</text>
<path d="M46.2,821.4 H51.4" stroke="#111" stroke-width="2.3"/>
<text class="b" x="44.7" y="825.4" font-size="10.2" text-anchor="end">400</text>
<path d="M46.0,795.4 H51.2" stroke="#111" stroke-width="2.3"/>
<text class="b" x="44.5" y="799.4" font-size="10.2" text-anchor="end">500</text>
<path d="M45.8,769.3 H51.0" stroke="#111" stroke-width="2.3"/>
<text class="b" x="44.4" y="773.3" font-size="10.2" text-anchor="end">600</text>
<text class="b" x="52.2" y="943" font-size="10.2" text-anchor="middle">0</text>
<path d="M131.1,925.6 V931.1" stroke="#111" stroke-width="1.8"/>
<text class="b" x="131.1" y="943" font-size="10.2" text-anchor="middle">5</text>
<path d="M210.0,925.6 V931.1" stroke="#111" stroke-width="1.8"/>
<text class="b" x="210.0" y="943" font-size="10.2" text-anchor="middle">10</text>
<path d="M288.9,925.6 V931.1" stroke="#111" stroke-width="1.8"/>
<text class="b" x="288.9" y="943" font-size="10.2" text-anchor="middle">15</text>
<path d="M367.8,925.6 V931.1" stroke="#111" stroke-width="1.8"/>
<text class="b" x="367.8" y="943" font-size="10.2" text-anchor="middle">20</text>
<text class="b" font-size="12" transform="translate(20,921.8) rotate(-90)" textLength="153.5" lengthAdjust="spacingAndGlyphs">TG Production (mg/kg/day)</text>
<text class="b" x="119" y="961.3" font-size="11.9" text-anchor="start" textLength="167.7" lengthAdjust="spacingAndGlyphs">ApoB Production (mg/kg/day)</text>
<text class="b" x="199.5" y="776.2" font-size="13.8" text-anchor="middle">ApoB production plotted</text>
<text class="b" x="199.5" y="793" font-size="13.8" text-anchor="middle">vs TG production.</text>
<text class="b" x="79" y="782.5" font-size="10.8" text-anchor="middle">VLDL1</text>
<text class="b" x="79" y="795.15" font-size="10.8" text-anchor="middle">r-0.87</text>
<text class="b" x="79" y="807.8" font-size="10.8" text-anchor="middle">p&lt;0.001</text>
<text class="b" x="79" y="831.1" font-size="10.8" text-anchor="middle">VLDL2</text>
<text class="b" x="79" y="843.7" font-size="10.8" text-anchor="middle">r-0.79</text>
<text class="b" x="79" y="856.3000000000001" font-size="10.8" text-anchor="middle">p&lt;0.001</text>
<path d="M100.8,889.8 L311,800" stroke="#111" stroke-width="2.6"/>
<rect x="269.6" y="885.8" width="7.4" height="7.4" fill="#2A40B8"/>
<circle cx="285.2" cy="889.2" r="3.4" fill="#C72B1A"/>
<text class="b" x="294.8" y="893.2" font-size="10.8" text-anchor="start">T2DM</text>
<rect x="269.5" y="900.3" width="7.6" height="7.6" fill="#fff" stroke="#2A40B8" stroke-width="1.2"/>
<circle cx="285.8" cy="904.1" r="3.4" fill="#fff" stroke="#C72B1A" stroke-width="1.4"/>
<text class="b" x="295.6" y="908" font-size="10.8" text-anchor="start">Controls</text>
<rect x="96.1" y="883.1" width="7.6" height="7.6" fill="#fff" stroke="#2A40B8" stroke-width="1.2"/>
<rect x="93.7" y="893.3" width="7.6" height="7.6" fill="#fff" stroke="#2A40B8" stroke-width="1.2"/>
<rect x="111.0" y="886.7" width="7.6" height="7.6" fill="#fff" stroke="#2A40B8" stroke-width="1.2"/>
<rect x="116.0" y="880.2" width="7.6" height="7.6" fill="#fff" stroke="#2A40B8" stroke-width="1.2"/>
<rect x="123.8" y="882.8" width="7.6" height="7.6" fill="#fff" stroke="#2A40B8" stroke-width="1.2"/>
<rect x="132.4" y="884.3" width="7.6" height="7.6" fill="#fff" stroke="#2A40B8" stroke-width="1.2"/>
<rect x="139.9" y="876.9" width="7.6" height="7.6" fill="#fff" stroke="#2A40B8" stroke-width="1.2"/>
<rect x="154.2" y="864.4" width="7.6" height="7.6" fill="#fff" stroke="#2A40B8" stroke-width="1.2"/>
<rect x="158.0" y="832.2" width="7.6" height="7.6" fill="#fff" stroke="#2A40B8" stroke-width="1.2"/>
<rect x="165.2" y="845.0" width="7.6" height="7.6" fill="#fff" stroke="#2A40B8" stroke-width="1.2"/>
<rect x="168.5" y="856.9" width="7.6" height="7.6" fill="#fff" stroke="#2A40B8" stroke-width="1.2"/>
<rect x="175.6" y="831.6" width="7.6" height="7.6" fill="#fff" stroke="#2A40B8" stroke-width="1.2"/>
<rect x="190.5" y="865.0" width="7.6" height="7.6" fill="#fff" stroke="#2A40B8" stroke-width="1.2"/>
<rect x="192.9" y="856.3" width="7.6" height="7.6" fill="#fff" stroke="#2A40B8" stroke-width="1.2"/>
<rect x="206.0" y="843.1" width="7.6" height="7.6" fill="#fff" stroke="#2A40B8" stroke-width="1.2"/>
<rect x="193.5" y="856.5" width="7.6" height="7.6" fill="#fff" stroke="#2A40B8" stroke-width="1.2"/>
<rect x="190.2" y="864.8" width="7.6" height="7.6" fill="#fff" stroke="#2A40B8" stroke-width="1.2"/>
<rect x="229.9" y="862.4" width="7.6" height="7.6" fill="#fff" stroke="#2A40B8" stroke-width="1.2"/>
<rect x="244.2" y="852.0" width="7.6" height="7.6" fill="#fff" stroke="#2A40B8" stroke-width="1.2"/>
<rect x="188.7" y="807.2" width="7.2" height="7.2" fill="#2A40B8"/>
<rect x="172.9" y="841.6" width="7.2" height="7.2" fill="#2A40B8"/>
<rect x="169.3" y="850.3" width="7.2" height="7.2" fill="#2A40B8"/>
<rect x="168.7" y="865.5" width="7.2" height="7.2" fill="#2A40B8"/>
<rect x="148.4" y="875.0" width="7.2" height="7.2" fill="#2A40B8"/>
<rect x="226.5" y="812.6" width="7.2" height="7.2" fill="#2A40B8"/>
<rect x="235.4" y="812.6" width="7.2" height="7.2" fill="#2A40B8"/>
<rect x="260.8" y="805.4" width="7.2" height="7.2" fill="#2A40B8"/>
<rect x="304.6" y="796.5" width="7.2" height="7.2" fill="#2A40B8"/>
<rect x="309.0" y="793.2" width="7.2" height="7.2" fill="#2A40B8"/>
<circle cx="65.9" cy="921.7" r="3.5" fill="#C72B1A"/>
<circle cx="68.6" cy="919" r="3.5" fill="#C72B1A"/>
<circle cx="80.3" cy="917.2" r="3.5" fill="#C72B1A"/>
<circle cx="85.6" cy="915.5" r="3.5" fill="#C72B1A"/>
<circle cx="83.8" cy="920.8" r="3.5" fill="#C72B1A"/>
<circle cx="95.8" cy="911.9" r="3.5" fill="#C72B1A"/>
<circle cx="108" cy="915.1" r="3.5" fill="#C72B1A"/>
<circle cx="118.2" cy="912.4" r="3.5" fill="#C72B1A"/>
<circle cx="97.2" cy="915.5" r="3.5" fill="#C72B1A"/>
<circle cx="72.6" cy="916.9" r="3.2" fill="#fff" stroke="#C72B1A" stroke-width="1.4"/>
<circle cx="72.6" cy="922.4" r="3.2" fill="#fff" stroke="#C72B1A" stroke-width="1.4"/>
<circle cx="77.6" cy="921.7" r="3.2" fill="#fff" stroke="#C72B1A" stroke-width="1.4"/>
<circle cx="86.9" cy="918.1" r="3.2" fill="#fff" stroke="#C72B1A" stroke-width="1.4"/>
<circle cx="91.9" cy="914.6" r="3.2" fill="#fff" stroke="#C72B1A" stroke-width="1.4"/>
<circle cx="93.7" cy="919.9" r="3.2" fill="#fff" stroke="#C72B1A" stroke-width="1.4"/>
<circle cx="96.9" cy="919.9" r="3.2" fill="#fff" stroke="#C72B1A" stroke-width="1.4"/>
<circle cx="99.9" cy="910.6" r="3.2" fill="#fff" stroke="#C72B1A" stroke-width="1.4"/>
<rect x="385.7" y="555.2" width="4.3" height="5.4" fill="#111"/>
<text x="391.5" y="562.8" font-size="13.9">There was a strong, linear correlation</text>
<text x="384.8" y="579.6" font-size="13.9">between the apoB and TG pools in both</text>
<text x="384.8" y="596.5" font-size="13.9">VLDL1 and VLDL2.</text>
<rect x="385.7" y="613.6" width="4.3" height="5.4" fill="#111"/>
<text x="391.5" y="621.2" font-size="13.9">The VLDL1 pools were significantly larger in</text>
<text x="384.8" y="638.1" font-size="13.9">DM2 than in controls (P&lt;0.01), although data</text>
<text x="384.8" y="654.9" font-size="13.9">for all subjects plot on the same line.</text>
<rect x="385.7" y="672.6" width="4.3" height="5.4" fill="#111"/>
<text x="391.5" y="680.2" font-size="13.9">The same strong correlation was observed in</text>
<text x="384.8" y="697.1" font-size="13.9">the subgroups VLDL1 (controls, r=0.97,</text>
<text x="384.8" y="713.9" font-size="13.9">P&lt;0.001; DM2, r=0.97, P&lt;0.001) and VLDL2</text>
<text x="384.8" y="730.8" font-size="13.9">(controls, r0.95, P0.001; DM2, r=0.92,</text>
<text x="384.8" y="747.6" font-size="13.9">P&lt;0.001)</text>
<rect x="385.7" y="775.1" width="4.3" height="5.4" fill="#111"/>
<text x="391.5" y="782.7" font-size="13.9">There was a strong, linear correlation</text>
<text x="384.8" y="799.6" font-size="13.9">between apoB and TG production in both</text>
<text x="384.8" y="816.4" font-size="13.9">VLDL1 and VLDL2 and a significantly higher</text>
<text x="384.8" y="833.2" font-size="13.9">production of both VLDL1 apoB and VLDL1</text>
<text x="384.8" y="850.1" font-size="13.9">TG in DM2 than in control subjects (apoB,</text>
<text x="384.8" y="867.0" font-size="13.9">P&lt;0.01; TG, P&lt;0.001).</text>
<rect x="385.7" y="884.1" width="4.3" height="5.4" fill="#111"/>
<text x="391.5" y="891.7" font-size="13.9">The TG-apoB ratio of VLDL1 and VLDL2 (ie,</text>
<text x="384.8" y="908.6" font-size="13.9">the slope of the lines) showed no significant</text>
<text x="384.8" y="925.4" font-size="13.9">differenced between DM2 and control subjects</text>
</svg>
</body></html>
